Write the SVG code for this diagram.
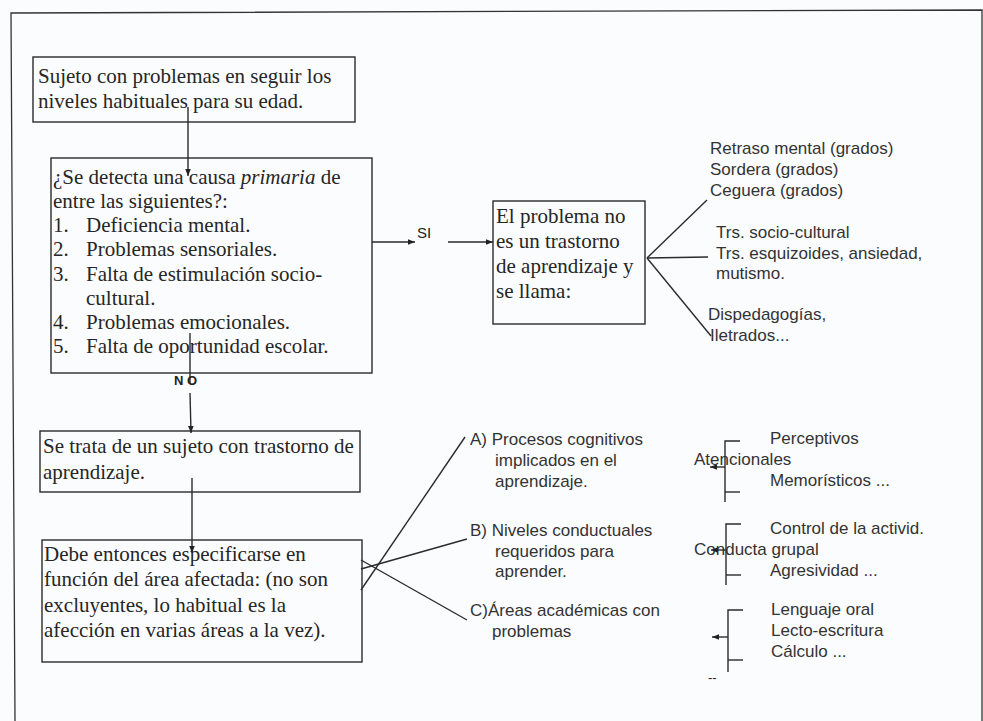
<svg xmlns="http://www.w3.org/2000/svg" width="983" height="721" viewBox="0 0 983 721">
<defs>
<style>
.bg{fill:#fbfcfd}
.frame{fill:none;stroke:#333;stroke-width:1.3}
.box{fill:none;stroke:#2b2b2b;stroke-width:1.4}
.ln{fill:none;stroke:#2b2b2b;stroke-width:1.4}
.serif{font-family:"Liberation Serif","Times New Roman",serif;font-size:21px;fill:#262626}
.sans{font-family:"Liberation Sans",Arial,sans-serif;font-size:17px;fill:#333}
.small{font-family:"Liberation Sans",Arial,sans-serif;font-size:13px;fill:#222}
</style>
<marker id="arr" viewBox="0 0 10 10" refX="10" refY="5" markerWidth="7" markerHeight="7" markerUnits="userSpaceOnUse" orient="auto">
<path d="M0,1 L10,5 L0,9 z" fill="#222"/>
</marker>
</defs>
<rect class="bg" x="0" y="0" width="983" height="721"/>
<polyline class="frame" points="15,721 11,13 982,10 982,721"/>

<g id="node-sujeto">
<rect class="box" x="33" y="57" width="322" height="65"/>
<text class="serif" x="38" y="83">Sujeto con problemas en seguir los</text>
<text class="serif" x="38" y="108">niveles habituales para su edad.</text>
</g>

<g id="node-causa">
<rect class="box" x="51" y="158" width="321" height="215"/>
<text class="serif" x="53" y="184">¿Se detecta una causa <tspan font-style="italic">primaria</tspan> de</text>
<text class="serif" x="53" y="208">entre las siguientes?:</text>
<text class="serif" x="53" y="232">1.</text><text class="serif" x="86" y="232">Deficiencia mental.</text>
<text class="serif" x="53" y="256">2.</text><text class="serif" x="86" y="256">Problemas sensoriales.</text>
<text class="serif" x="53" y="281">3.</text><text class="serif" x="86" y="281">Falta de estimulación socio-</text>
<text class="serif" x="86" y="305">cultural.</text>
<text class="serif" x="53" y="329">4.</text><text class="serif" x="86" y="329">Problemas emocionales.</text>
<text class="serif" x="53" y="353">5.</text><text class="serif" x="86" y="353">Falta de oportunidad escolar.</text>
</g>

<g id="node-no-trastorno">
<rect class="box" x="493" y="201" width="152" height="123"/>
<text class="serif" x="496" y="223">El problema no</text>
<text class="serif" x="496" y="248">es un trastorno</text>
<text class="serif" x="496" y="273">de aprendizaje y</text>
<text class="serif" x="496" y="298">se llama:</text>
</g>

<g id="node-tipos-no">
<text class="sans" x="710" y="154">Retraso mental (grados)</text>
<text class="sans" x="710" y="175">Sordera (grados)</text>
<text class="sans" x="710" y="196">Ceguera (grados)</text>
<text class="sans" x="716" y="238">Trs. socio-cultural</text>
<text class="sans" x="716" y="259">Trs. esquizoides, ansiedad,</text>
<text class="sans" x="716" y="279">mutismo.</text>
<text class="sans" x="708" y="320">Dispedagogías,</text>
<text class="sans" x="710" y="341">Iletrados...</text>
</g>

<g id="node-trastorno">
<rect class="box" x="40" y="431" width="320" height="61"/>
<text class="serif" x="43" y="453">Se trata de un sujeto con trastorno de</text>
<text class="serif" x="43" y="479">aprendizaje.</text>
</g>

<g id="node-especificar">
<rect class="box" x="42" y="540" width="320" height="122"/>
<text class="serif" x="44" y="561">Debe entonces especificarse en</text>
<text class="serif" x="44" y="586">función del área afectada: (no son</text>
<text class="serif" x="44" y="612">excluyentes, lo habitual es la</text>
<text class="serif" x="44" y="637">afección en varias áreas a la vez).</text>
</g>

<g id="node-areas">
<text class="sans" x="470" y="445">A) Procesos cognitivos</text>
<text class="sans" x="495" y="466">implicados en el</text>
<text class="sans" x="495" y="487">aprendizaje.</text>
<text class="sans" x="470" y="536">B) Niveles conductuales</text>
<text class="sans" x="495" y="557">requeridos para</text>
<text class="sans" x="495" y="577">aprender.</text>
<text class="sans" x="470" y="616">C)Áreas académicas con</text>
<text class="sans" x="492" y="637">problemas</text>
</g>

<g id="node-cognitivos">
<text class="sans" x="770" y="444">Perceptivos</text>
<text class="sans" x="694" y="465">Atencionales</text>
<text class="sans" x="770" y="486">Memorísticos ...</text>
</g>
<g id="node-conductuales">
<text class="sans" x="770" y="534">Control de la activid.</text>
<text class="sans" x="694" y="555">Conducta grupal</text>
<text class="sans" x="770" y="576">Agresividad ...</text>
</g>
<g id="node-academicas">
<text class="sans" x="771" y="615">Lenguaje oral</text>
<text class="sans" x="771" y="636">Lecto-escritura</text>
<text class="sans" x="771" y="657">Cálculo ...</text>
<text class="small" x="708" y="682">--</text>
</g>

<g id="connectors">
<line class="ln" x1="188" y1="107" x2="188" y2="176" marker-end="url(#arr)"/>
<line class="ln" x1="372" y1="242" x2="415" y2="242" marker-end="url(#arr)"/>
<text class="small" x="417" y="238" style="font-size:15px">SI</text>
<line class="ln" x1="448" y1="242" x2="493" y2="242" marker-end="url(#arr)"/>
<line class="ln" x1="190" y1="333" x2="190" y2="383"/>
<text class="small" x="174" y="385" font-weight="bold">N O</text>
<line class="ln" x1="190" y1="393" x2="191" y2="433" marker-end="url(#arr)"/>
<line class="ln" x1="192" y1="478" x2="192" y2="553" marker-end="url(#arr)"/>

<line class="ln" x1="647" y1="258" x2="707" y2="200"/>
<line class="ln" x1="647" y1="258" x2="708" y2="257"/>
<line class="ln" x1="647" y1="258" x2="711" y2="336"/>

<line class="ln" x1="361" y1="590" x2="465" y2="437"/>
<line class="ln" x1="361" y1="569" x2="467" y2="539"/>
<line class="ln" x1="361" y1="560" x2="467" y2="620"/>

<polyline class="ln" points="740,441 725,441 725,502"/>
<line class="ln" x1="725" y1="492" x2="740" y2="492"/>
<line class="ln" x1="725" y1="467" x2="710" y2="467" marker-end="url(#arr)"/>

<polyline class="ln" points="741,524 726,524 726,585"/>
<line class="ln" x1="726" y1="575" x2="741" y2="575"/>
<line class="ln" x1="726" y1="550" x2="711" y2="550" marker-end="url(#arr)"/>

<polyline class="ln" points="743,610 728,610 728,672"/>
<line class="ln" x1="728" y1="660" x2="743" y2="660"/>
<line class="ln" x1="728" y1="637" x2="712" y2="637" marker-end="url(#arr)"/>
</g>
</svg>
